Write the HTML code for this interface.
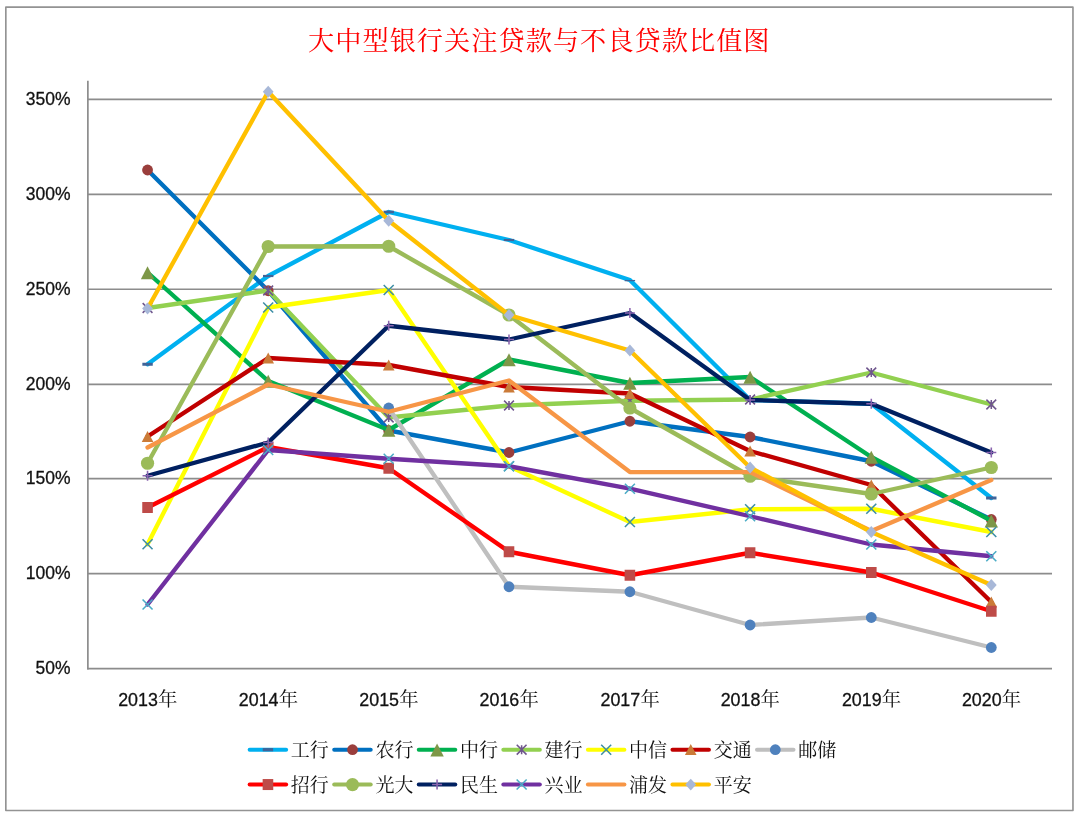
<!DOCTYPE html>
<html lang="zh-CN"><head><meta charset="utf-8"><title>大中型银行关注贷款与不良贷款比值图</title>
<style>html,body{margin:0;padding:0;background:#fff}body{width:1080px;height:819px;overflow:hidden}svg{display:block}
.num{font-family:"Liberation Sans",sans-serif;font-size:18.5px;fill:#111111;stroke:#111111;stroke-width:.3px}
.cjk{font-family:"Liberation Serif","Noto Serif CJK SC",serif;fill:#111111}
.title{font-family:"Liberation Serif","Noto Serif CJK SC",serif;font-size:26.2px;letter-spacing:1.02px;fill:#FF0000}
</style></head><body>
<svg width="1080" height="819" viewBox="0 0 1080 819">
<rect x="0" y="0" width="1080" height="819" fill="#fff"/>
<rect x="5.83" y="7.13" width="1067.13" height="803.35" fill="#fff" stroke="#939393" stroke-width="1.65" stroke-linejoin="round"/>
<text class="title" x="539.3" y="50" text-anchor="middle">大中型银行关注贷款与不良贷款比值图</text>
<line x1="88" y1="99.43" x2="1052" y2="99.43" stroke="#8c8c8c" stroke-width="1.65"/>
<line x1="88" y1="194.35" x2="1052" y2="194.35" stroke="#8c8c8c" stroke-width="1.65"/>
<line x1="88" y1="289.24" x2="1052" y2="289.24" stroke="#8c8c8c" stroke-width="1.65"/>
<line x1="88" y1="384.43" x2="1052" y2="384.43" stroke="#8c8c8c" stroke-width="1.65"/>
<line x1="88" y1="478.55" x2="1052" y2="478.55" stroke="#8c8c8c" stroke-width="1.65"/>
<line x1="88" y1="573.55" x2="1052" y2="573.55" stroke="#8c8c8c" stroke-width="1.65"/>
<line x1="87.87" y1="80.8" x2="87.87" y2="669.4" stroke="#8c8c8c" stroke-width="1.7"/>
<line x1="87.2" y1="668.7" x2="1052" y2="668.7" stroke="#8c8c8c" stroke-width="1.7"/>
<text class="num" x="70.5" y="105.03" text-anchor="end" textLength="44.8" lengthAdjust="spacingAndGlyphs">350%</text>
<text class="num" x="70.5" y="199.95" text-anchor="end" textLength="44.8" lengthAdjust="spacingAndGlyphs">300%</text>
<text class="num" x="70.5" y="294.84" text-anchor="end" textLength="44.8" lengthAdjust="spacingAndGlyphs">250%</text>
<text class="num" x="70.5" y="390.03" text-anchor="end" textLength="44.8" lengthAdjust="spacingAndGlyphs">200%</text>
<text class="num" x="70.5" y="484.15" text-anchor="end" textLength="44.8" lengthAdjust="spacingAndGlyphs">150%</text>
<text class="num" x="70.5" y="579.15" text-anchor="end" textLength="44.8" lengthAdjust="spacingAndGlyphs">100%</text>
<text class="num" x="70.5" y="674.3" text-anchor="end" textLength="34.9" lengthAdjust="spacingAndGlyphs">50%</text>
<text class="num" x="118.15" y="706" textLength="39.7" lengthAdjust="spacingAndGlyphs">2013</text>
<text class="cjk" font-size="19.4" x="158.05" y="706.3">年</text>
<text class="num" x="238.8" y="706" textLength="39.7" lengthAdjust="spacingAndGlyphs">2014</text>
<text class="cjk" font-size="19.4" x="278.7" y="706.3">年</text>
<text class="num" x="359.3" y="706" textLength="39.7" lengthAdjust="spacingAndGlyphs">2015</text>
<text class="cjk" font-size="19.4" x="399.2" y="706.3">年</text>
<text class="num" x="479.6" y="706" textLength="39.7" lengthAdjust="spacingAndGlyphs">2016</text>
<text class="cjk" font-size="19.4" x="519.5" y="706.3">年</text>
<text class="num" x="600.5" y="706" textLength="39.7" lengthAdjust="spacingAndGlyphs">2017</text>
<text class="cjk" font-size="19.4" x="640.4" y="706.3">年</text>
<text class="num" x="720.7" y="706" textLength="39.7" lengthAdjust="spacingAndGlyphs">2018</text>
<text class="cjk" font-size="19.4" x="760.6" y="706.3">年</text>
<text class="num" x="841.9" y="706" textLength="39.7" lengthAdjust="spacingAndGlyphs">2019</text>
<text class="cjk" font-size="19.4" x="881.8" y="706.3">年</text>
<text class="num" x="961.9" y="706" textLength="39.7" lengthAdjust="spacingAndGlyphs">2020</text>
<text class="cjk" font-size="19.4" x="1001.8" y="706.3">年</text>
<g>
<polyline fill="none" stroke="#00B0F0" stroke-width="4.35" stroke-linejoin="round" stroke-linecap="round" points="147.55,364.25 268.2,276 388.7,212 509,240 629.9,280 750.1,400 871.3,403.75 991.3,498"/>
<rect x="142.35" y="362.75" width="10.4" height="3" fill="#3F6499"/>
<rect x="263" y="274.9" width="10.4" height="2.2" fill="#3F6499"/>
<rect x="383.5" y="210.7" width="10.4" height="2.6" fill="#3F6499"/>
<rect x="503.8" y="238.9" width="10.4" height="2.2" fill="#3F6499"/>
<rect x="624.7" y="279.95" width="10.4" height="1.3" fill="#3F6499"/>
<rect x="744.9" y="398.75" width="10.4" height="2.5" fill="#3F6499"/>
<rect x="866.1" y="402.5" width="10.4" height="2.5" fill="#3F6499"/>
<rect x="986.1" y="496.5" width="10.4" height="3" fill="#3F6499"/>
</g>
<g>
<polyline fill="none" stroke="#0070C0" stroke-width="4.35" stroke-linejoin="round" stroke-linecap="round" points="147.55,170 268.2,290.75 388.7,430.5 509,452.5 629.9,421.25 750.1,437 871.3,461.25 991.3,519.5"/>
<circle cx="147.55" cy="170" r="5.4" fill="#9A3E3C"/>
<circle cx="268.2" cy="290.75" r="5.4" fill="#9A3E3C"/>
<circle cx="388.7" cy="430.5" r="5.4" fill="#9A3E3C"/>
<circle cx="509" cy="452.5" r="5.4" fill="#9A3E3C"/>
<circle cx="629.9" cy="421.25" r="5.4" fill="#9A3E3C"/>
<circle cx="750.1" cy="437" r="5.4" fill="#9A3E3C"/>
<circle cx="871.3" cy="461.25" r="5.4" fill="#9A3E3C"/>
<circle cx="991.3" cy="519.5" r="5.4" fill="#9A3E3C"/>
</g>
<g>
<polyline fill="none" stroke="#00B050" stroke-width="4.35" stroke-linejoin="round" stroke-linecap="round" points="147.55,272.5 268.2,381 388.7,430 509,359.5 629.9,383 750.1,377 871.3,457 991.3,520.75"/>
<path d="M147.55 266.3L154.25 279.3L140.85 279.3Z" fill="#7D9747"/>
<path d="M268.2 374.8L274.9 387.8L261.5 387.8Z" fill="#7D9747"/>
<path d="M388.7 423.8L395.4 436.8L382 436.8Z" fill="#7D9747"/>
<path d="M509 353.3L515.7 366.3L502.3 366.3Z" fill="#7D9747"/>
<path d="M629.9 376.8L636.6 389.8L623.2 389.8Z" fill="#7D9747"/>
<path d="M750.1 370.8L756.8 383.8L743.4 383.8Z" fill="#7D9747"/>
<path d="M871.3 450.8L878 463.8L864.6 463.8Z" fill="#7D9747"/>
<path d="M991.3 514.55L998 527.55L984.6 527.55Z" fill="#7D9747"/>
</g>
<g>
<polyline fill="none" stroke="#92D050" stroke-width="4.35" stroke-linejoin="round" stroke-linecap="round" points="147.55,308 268.2,290.5 388.7,417.5 509,405.5 629.9,400.75 750.1,399.5 871.3,372.5 991.3,404.5"/>
<path d="M142.65 303.1L152.45 312.9M142.65 312.9L152.45 303.1M147.55 303.5L147.55 312.5" stroke="#6F568D" stroke-width="1.55" fill="none"/>
<path d="M263.3 285.6L273.1 295.4M263.3 295.4L273.1 285.6M268.2 286L268.2 295" stroke="#6F568D" stroke-width="1.55" fill="none"/>
<path d="M383.8 412.6L393.6 422.4M383.8 422.4L393.6 412.6M388.7 413L388.7 422" stroke="#6F568D" stroke-width="1.55" fill="none"/>
<path d="M504.1 400.6L513.9 410.4M504.1 410.4L513.9 400.6M509 401L509 410" stroke="#6F568D" stroke-width="1.55" fill="none"/>
<path d="M625 395.85L634.8 405.65M625 405.65L634.8 395.85M629.9 396.25L629.9 405.25" stroke="#6F568D" stroke-width="1.55" fill="none"/>
<path d="M745.2 394.6L755 404.4M745.2 404.4L755 394.6M750.1 395L750.1 404" stroke="#6F568D" stroke-width="1.55" fill="none"/>
<path d="M866.4 367.6L876.2 377.4M866.4 377.4L876.2 367.6M871.3 368L871.3 377" stroke="#6F568D" stroke-width="1.55" fill="none"/>
<path d="M986.4 399.6L996.2 409.4M986.4 409.4L996.2 399.6M991.3 400L991.3 409" stroke="#6F568D" stroke-width="1.55" fill="none"/>
</g>
<g>
<polyline fill="none" stroke="#FFFF00" stroke-width="4.35" stroke-linejoin="round" stroke-linecap="round" points="147.55,544.25 268.2,307.5 388.7,290 509,466.25 629.9,522 750.1,509.25 871.3,508.75 991.3,532"/>
<path d="M142.55 539.25L152.55 549.25M142.55 549.25L152.55 539.25" stroke="#3E8EA6" stroke-width="1.55" fill="none"/>
<path d="M263.2 302.5L273.2 312.5M263.2 312.5L273.2 302.5" stroke="#3E8EA6" stroke-width="1.55" fill="none"/>
<path d="M383.7 285L393.7 295M383.7 295L393.7 285" stroke="#3E8EA6" stroke-width="1.55" fill="none"/>
<path d="M504 461.25L514 471.25M504 471.25L514 461.25" stroke="#3E8EA6" stroke-width="1.55" fill="none"/>
<path d="M624.9 517L634.9 527M624.9 527L634.9 517" stroke="#3E8EA6" stroke-width="1.55" fill="none"/>
<path d="M745.1 504.25L755.1 514.25M745.1 514.25L755.1 504.25" stroke="#3E8EA6" stroke-width="1.55" fill="none"/>
<path d="M866.3 503.75L876.3 513.75M866.3 513.75L876.3 503.75" stroke="#3E8EA6" stroke-width="1.55" fill="none"/>
<path d="M986.3 527L996.3 537M986.3 537L996.3 527" stroke="#3E8EA6" stroke-width="1.55" fill="none"/>
</g>
<g>
<polyline fill="none" stroke="#C00000" stroke-width="4.35" stroke-linejoin="round" stroke-linecap="round" points="147.55,436.5 268.2,358 388.7,365 509,387 629.9,393.5 750.1,451 871.3,485 991.3,602"/>
<path d="M147.55 430.9L153.35 441.9L141.75 441.9Z" fill="#CB7B38"/>
<path d="M268.2 352.4L274 363.4L262.4 363.4Z" fill="#CB7B38"/>
<path d="M388.7 359.4L394.5 370.4L382.9 370.4Z" fill="#CB7B38"/>
<path d="M509 381.4L514.8 392.4L503.2 392.4Z" fill="#CB7B38"/>
<path d="M629.9 387.9L635.7 398.9L624.1 398.9Z" fill="#CB7B38"/>
<path d="M750.1 445.4L755.9 456.4L744.3 456.4Z" fill="#CB7B38"/>
<path d="M871.3 479.4L877.1 490.4L865.5 490.4Z" fill="#CB7B38"/>
<path d="M991.3 596.4L997.1 607.4L985.5 607.4Z" fill="#CB7B38"/>
</g>
<g>
<polyline fill="none" stroke="#BFBFBF" stroke-width="4.35" stroke-linejoin="round" stroke-linecap="round" points="388.7,408 509,586.75 629.9,591.75 750.1,625 871.3,617.5 991.3,647.5"/>
<circle cx="388.7" cy="408" r="5.4" fill="#4F81BD"/>
<circle cx="509" cy="586.75" r="5.4" fill="#4F81BD"/>
<circle cx="629.9" cy="591.75" r="5.4" fill="#4F81BD"/>
<circle cx="750.1" cy="625" r="5.4" fill="#4F81BD"/>
<circle cx="871.3" cy="617.5" r="5.4" fill="#4F81BD"/>
<circle cx="991.3" cy="647.5" r="5.4" fill="#4F81BD"/>
</g>
<g>
<polyline fill="none" stroke="#FF0000" stroke-width="4.35" stroke-linejoin="round" stroke-linecap="round" points="147.55,507.5 268.2,447 388.7,468.25 509,551.75 629.9,575.25 750.1,552.75 871.3,572.5 991.3,611.25"/>
<rect x="142.25" y="502" width="10.6" height="11" fill="#BE4B48"/>
<rect x="262.9" y="441.5" width="10.6" height="11" fill="#BE4B48"/>
<rect x="383.4" y="462.75" width="10.6" height="11" fill="#BE4B48"/>
<rect x="503.7" y="546.25" width="10.6" height="11" fill="#BE4B48"/>
<rect x="624.6" y="569.75" width="10.6" height="11" fill="#BE4B48"/>
<rect x="744.8" y="547.25" width="10.6" height="11" fill="#BE4B48"/>
<rect x="866" y="567" width="10.6" height="11" fill="#BE4B48"/>
<rect x="986" y="605.75" width="10.6" height="11" fill="#BE4B48"/>
</g>
<g>
<polyline fill="none" stroke="#9BBB59" stroke-width="4.35" stroke-linejoin="round" stroke-linecap="round" points="147.55,463.25 268.2,246.5 388.7,246.25 509,315 629.9,408 750.1,476.25 871.3,494 991.3,467.5"/>
<circle cx="147.55" cy="463.25" r="6.6" fill="#9BBB59"/>
<circle cx="268.2" cy="246.5" r="6.6" fill="#9BBB59"/>
<circle cx="388.7" cy="246.25" r="6.6" fill="#9BBB59"/>
<circle cx="509" cy="315" r="6.6" fill="#9BBB59"/>
<circle cx="629.9" cy="408" r="6.6" fill="#9BBB59"/>
<circle cx="750.1" cy="476.25" r="6.6" fill="#9BBB59"/>
<circle cx="871.3" cy="494" r="6.6" fill="#9BBB59"/>
<circle cx="991.3" cy="467.5" r="6.6" fill="#9BBB59"/>
</g>
<g>
<polyline fill="none" stroke="#002060" stroke-width="4.35" stroke-linejoin="round" stroke-linecap="round" points="147.55,475.75 268.2,442.5 388.7,325.75 509,339.5 629.9,313 750.1,400 871.3,403.75 991.3,452.5"/>
<path d="M142.55 475.75L152.55 475.75M147.55 470.75L147.55 480.75" stroke="#8A64AE" stroke-width="1.55" fill="none"/>
<path d="M263.2 442.5L273.2 442.5M268.2 437.5L268.2 447.5" stroke="#8A64AE" stroke-width="1.55" fill="none"/>
<path d="M383.7 325.75L393.7 325.75M388.7 320.75L388.7 330.75" stroke="#8A64AE" stroke-width="1.55" fill="none"/>
<path d="M504 339.5L514 339.5M509 334.5L509 344.5" stroke="#8A64AE" stroke-width="1.55" fill="none"/>
<path d="M624.9 313L634.9 313M629.9 308L629.9 318" stroke="#8A64AE" stroke-width="1.55" fill="none"/>
<path d="M745.1 400L755.1 400M750.1 395L750.1 405" stroke="#8A64AE" stroke-width="1.55" fill="none"/>
<path d="M866.3 403.75L876.3 403.75M871.3 398.75L871.3 408.75" stroke="#8A64AE" stroke-width="1.55" fill="none"/>
<path d="M986.3 452.5L996.3 452.5M991.3 447.5L991.3 457.5" stroke="#8A64AE" stroke-width="1.55" fill="none"/>
</g>
<g>
<polyline fill="none" stroke="#7030A0" stroke-width="4.35" stroke-linejoin="round" stroke-linecap="round" points="147.55,604.5 268.2,450 388.7,458.75 509,466.25 629.9,488.7 750.1,516.25 871.3,544.5 991.3,556.25"/>
<path d="M142.55 599.5L152.55 609.5M142.55 609.5L152.55 599.5" stroke="#4BACC6" stroke-width="1.55" fill="none"/>
<path d="M263.2 445L273.2 455M263.2 455L273.2 445" stroke="#4BACC6" stroke-width="1.55" fill="none"/>
<path d="M383.7 453.75L393.7 463.75M383.7 463.75L393.7 453.75" stroke="#4BACC6" stroke-width="1.55" fill="none"/>
<path d="M504 461.25L514 471.25M504 471.25L514 461.25" stroke="#4BACC6" stroke-width="1.55" fill="none"/>
<path d="M624.9 483.7L634.9 493.7M624.9 493.7L634.9 483.7" stroke="#4BACC6" stroke-width="1.55" fill="none"/>
<path d="M745.1 511.25L755.1 521.25M745.1 521.25L755.1 511.25" stroke="#4BACC6" stroke-width="1.55" fill="none"/>
<path d="M866.3 539.5L876.3 549.5M866.3 549.5L876.3 539.5" stroke="#4BACC6" stroke-width="1.55" fill="none"/>
<path d="M986.3 551.25L996.3 561.25M986.3 561.25L996.3 551.25" stroke="#4BACC6" stroke-width="1.55" fill="none"/>
</g>
<g>
<polyline fill="none" stroke="#F79646" stroke-width="4.35" stroke-linejoin="round" stroke-linecap="round" points="147.55,447.5 268.2,384.5 388.7,411.75 509,380.5 629.9,472.05 750.1,472.05 871.3,531 991.3,480"/>
</g>
<g>
<polyline fill="none" stroke="#FFC000" stroke-width="4.35" stroke-linejoin="round" stroke-linecap="round" points="147.55,308.5 268.2,91.75 388.7,220.75 509,315 629.9,350.5 750.1,467.5 871.3,532 991.3,585"/>
<path d="M147.55 302.6L152.95 308.5L147.55 314.4L142.15 308.5Z" fill="#A8B8D8"/>
<path d="M268.2 85.85L273.6 91.75L268.2 97.65L262.8 91.75Z" fill="#A8B8D8"/>
<path d="M388.7 214.85L394.1 220.75L388.7 226.65L383.3 220.75Z" fill="#A8B8D8"/>
<path d="M509 309.1L514.4 315L509 320.9L503.6 315Z" fill="#A8B8D8"/>
<path d="M629.9 344.6L635.3 350.5L629.9 356.4L624.5 350.5Z" fill="#A8B8D8"/>
<path d="M750.1 461.6L755.5 467.5L750.1 473.4L744.7 467.5Z" fill="#A8B8D8"/>
<path d="M871.3 526.1L876.7 532L871.3 537.9L865.9 532Z" fill="#A8B8D8"/>
<path d="M991.3 579.1L996.7 585L991.3 590.9L985.9 585Z" fill="#A8B8D8"/>
</g>
<line x1="249.65" y1="749.7" x2="286.15" y2="749.7" stroke="#00B0F0" stroke-width="4" stroke-linecap="round"/>
<rect x="262.75" y="748.1" width="10.4" height="3.2" fill="#3F6499"/>
<text class="cjk" font-size="19" x="290.85" y="756.8">工行</text>
<line x1="334.21" y1="749.7" x2="370.71" y2="749.7" stroke="#0070C0" stroke-width="4" stroke-linecap="round"/>
<circle cx="352.51" cy="749.7" r="5.4" fill="#9A3E3C"/>
<text class="cjk" font-size="19" x="375.41" y="756.8">农行</text>
<line x1="418.77" y1="749.7" x2="455.27" y2="749.7" stroke="#00B050" stroke-width="4" stroke-linecap="round"/>
<path d="M437.07 743.5L443.77 756.5L430.37 756.5Z" fill="#7D9747"/>
<text class="cjk" font-size="19" x="459.97" y="756.8">中行</text>
<line x1="503.33" y1="749.7" x2="539.83" y2="749.7" stroke="#92D050" stroke-width="4" stroke-linecap="round"/>
<path d="M516.73 744.8L526.53 754.6M516.73 754.6L526.53 744.8M521.63 745.2L521.63 754.2" stroke="#6F568D" stroke-width="1.55" fill="none"/>
<text class="cjk" font-size="19" x="544.53" y="756.8">建行</text>
<line x1="587.89" y1="749.7" x2="624.39" y2="749.7" stroke="#FFFF00" stroke-width="4" stroke-linecap="round"/>
<path d="M601.19 744.7L611.19 754.7M601.19 754.7L611.19 744.7" stroke="#3E8EA6" stroke-width="1.55" fill="none"/>
<text class="cjk" font-size="19" x="629.09" y="756.8">中信</text>
<line x1="672.45" y1="749.7" x2="708.95" y2="749.7" stroke="#C00000" stroke-width="4" stroke-linecap="round"/>
<path d="M690.75 744.1L696.55 755.1L684.95 755.1Z" fill="#CB7B38"/>
<text class="cjk" font-size="19" x="713.65" y="756.8">交通</text>
<line x1="757.01" y1="749.7" x2="793.51" y2="749.7" stroke="#BFBFBF" stroke-width="4" stroke-linecap="round"/>
<circle cx="775.31" cy="749.7" r="5.4" fill="#4F81BD"/>
<text class="cjk" font-size="19" x="798.21" y="756.8">邮储</text>
<line x1="249.65" y1="784.55" x2="286.15" y2="784.55" stroke="#FF0000" stroke-width="4" stroke-linecap="round"/>
<rect x="262.65" y="779.05" width="10.6" height="11" fill="#BE4B48"/>
<text class="cjk" font-size="19" x="290.85" y="791.65">招行</text>
<line x1="334.21" y1="784.55" x2="370.71" y2="784.55" stroke="#9BBB59" stroke-width="4" stroke-linecap="round"/>
<circle cx="352.51" cy="784.55" r="6.6" fill="#9BBB59"/>
<text class="cjk" font-size="19" x="375.41" y="791.65">光大</text>
<line x1="418.77" y1="784.55" x2="455.27" y2="784.55" stroke="#002060" stroke-width="4" stroke-linecap="round"/>
<path d="M432.07 784.55L442.07 784.55M437.07 779.55L437.07 789.55" stroke="#8A64AE" stroke-width="1.55" fill="none"/>
<text class="cjk" font-size="19" x="459.97" y="791.65">民生</text>
<line x1="503.33" y1="784.55" x2="539.83" y2="784.55" stroke="#7030A0" stroke-width="4" stroke-linecap="round"/>
<path d="M516.63 779.55L526.63 789.55M516.63 789.55L526.63 779.55" stroke="#4BACC6" stroke-width="1.55" fill="none"/>
<text class="cjk" font-size="19" x="544.53" y="791.65">兴业</text>
<line x1="587.89" y1="784.55" x2="624.39" y2="784.55" stroke="#F79646" stroke-width="4" stroke-linecap="round"/>
<text class="cjk" font-size="19" x="629.09" y="791.65">浦发</text>
<line x1="672.45" y1="784.55" x2="708.95" y2="784.55" stroke="#FFC000" stroke-width="4" stroke-linecap="round"/>
<path d="M690.75 778.65L696.15 784.55L690.75 790.45L685.35 784.55Z" fill="#A8B8D8"/>
<text class="cjk" font-size="19" x="713.65" y="791.65">平安</text>
</svg></body></html>
